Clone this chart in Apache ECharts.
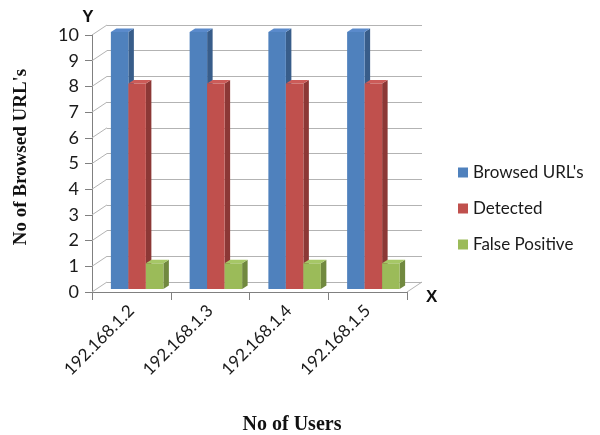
<!DOCTYPE html>
<html><head><meta charset="utf-8">
<script src="https://cdn.jsdelivr.net/npm/echarts@6/dist/echarts.min.js"></script>
<style>html,body{margin:0;padding:0;background:#fff}#c{width:600px;height:435px}</style>
</head><body><div id="c"></div>
<script>
var categories = ['192.168.1.2', '192.168.1.3', '192.168.1.4', '192.168.1.5'];
var seriesNames = ["Browsed URL's", 'Detected', 'False Positive'];
var browsed = [10, 10, 10, 10];
var detected = [8, 8, 8, 8];
var falsePositive = [1, 1, 1, 1];
var yTicks = [0, 1, 2, 3, 4, 5, 6, 7, 8, 9, 10];

var FRONT = ['#4F81BD', '#C0504D', '#9BBB59'];
var SIDE = ['#385D8A', '#8C3836', '#71893F'];
var TOP = ['#5A8ACB', '#CC5B58', '#A6C766'];
var DEPTH_X = 15, DEPTH_Y = -10;
var BAR_W = 17.5, BAR_SIDE_X = 5.5, BAR_SIDE_Y = -3.5, BAR_DY = -3;
var FONT = 'Lato, "Open Sans", sans-serif';

function barRenderer(idx) {
  return function (params, api) {
    var cat = api.value(0), v = api.value(1);
    var top = api.coord([cat, v]);
    var base = api.coord([cat, 0]);
    var x0 = top[0] - 20.5 + idx * BAR_W;
    var x1 = x0 + BAR_W;
    var yt = top[1] + BAR_DY, yb = base[1] + BAR_DY;
    var sx = BAR_SIDE_X, sy = BAR_SIDE_Y;
    return {
      type: 'group',
      children: [
        {type: 'polygon', shape: {points: [[x1, yt], [x1 + sx, yt + sy], [x1 + sx, yb + sy], [x1, yb]]},
         style: {fill: SIDE[idx]}},
        {type: 'polygon', shape: {points: [[x0, yt], [x0 + sx, yt + sy], [x1 + sx, yt + sy], [x1, yt]]},
         style: {fill: TOP[idx]}},
        {type: 'rect', shape: {x: x0, y: yt, width: BAR_W, height: yb - yt},
         style: {fill: FRONT[idx]}}
      ]
    };
  };
}

function mk(arr) { return arr.map(function (v, i) { return [i, v]; }); }

var chart = echarts.init(document.getElementById('c'));
chart.setOption({
  animation: false,
  backgroundColor: '#fff',
  textStyle: {fontFamily: FONT},
  grid: [
    {left: 92, right: 193, top: 35, bottom: 143},
    {left: 107, right: 178, top: 25, bottom: 153}
  ],
  legend: {
    orient: 'vertical', left: 453, top: 158, itemWidth: 10, itemHeight: 10, itemGap: 17,
    icon: 'rect',
    textStyle: {fontSize: 17, color: '#1a1a1a', fontFamily: FONT, lineHeight: 19},
    data: seriesNames
  },
  xAxis: [
    {type: 'category', gridIndex: 0, data: categories,
     axisLine: {lineStyle: {color: '#808080'}},
     axisTick: {show: true, length: 8, lineStyle: {color: '#808080'}, alignWithLabel: false},
     axisLabel: {rotate: 45, fontSize: 17, color: '#1a1a1a', margin: 16, fontFamily: FONT}},
    {type: 'category', gridIndex: 1, data: categories, show: false}
  ],
  yAxis: [
    {type: 'value', gridIndex: 0, min: 0, max: 10, interval: 1,
     axisLine: {show: true, lineStyle: {color: '#808080'}},
     axisTick: {show: true, length: 7, lineStyle: {color: '#808080'}},
     axisLabel: {fontSize: 18, color: '#1a1a1a', margin: 13, fontFamily: FONT},
     splitLine: {show: false},
     name: 'Y', nameLocation: 'end', nameGap: 6,
     nameTextStyle: {fontSize: 17, fontWeight: 'bold', color: '#111', fontFamily: 'Liberation Sans', padding: [0, 0, 0, -8]}},
    {type: 'value', gridIndex: 1, min: 0, max: 10, interval: 1,
     axisLine: {show: false}, axisTick: {show: false}, axisLabel: {show: false},
     splitLine: {show: true, lineStyle: {color: '#b3b3b3', width: 1}}}
  ],
  graphic: [
    {type: 'text', left: 426, top: 289, style: {text: 'X', fontSize: 17, fontWeight: 'bold', fill: '#111', fontFamily: 'Liberation Sans'}},
    {type: 'text', x: 292, y: 425, style: {text: 'No of Users', fontSize: 20, fontWeight: 'bold', fill: '#111', fontFamily: '"Liberation Serif", serif', align: 'center', verticalAlign: 'middle'}},
    {type: 'text', x: 21, y: 157, rotation: Math.PI / 2, style: {text: "No of Browsed URL's", fontSize: 19, fontWeight: 'bold', fill: '#111', fontFamily: '"Liberation Serif", serif', align: 'center', verticalAlign: 'middle'}, originX: 0, originY: 0}
  ],
  series: [
    {type: 'custom', name: 'walls', xAxisIndex: 0, yAxisIndex: 0, silent: true, z: 1,
     data: yTicks.map(function (v) { return [0, v]; }),
     renderItem: function (params, api) {
       var v = api.value(1);
       var p = api.coord([0, v]);
       var band = api.size([1, 0])[0];
       var lx = p[0] - band / 2;
       var children = [{type: 'line', shape: {x1: lx, y1: p[1], x2: lx + DEPTH_X, y2: p[1] + DEPTH_Y},
                        style: {stroke: '#b3b3b3', lineWidth: 1}}];
       if (v === 0) {
         var r = api.coord([categories.length - 1, 0]);
         var rx = r[0] + band / 2;
         children.push({type: 'line', shape: {x1: rx, y1: r[1], x2: rx + DEPTH_X, y2: r[1] + DEPTH_Y},
                        style: {stroke: '#b3b3b3', lineWidth: 1}});
       }
       return {type: 'group', children: children};
     }},
    {type: 'custom', name: seriesNames[0], xAxisIndex: 0, yAxisIndex: 0, z: 3, itemStyle: {color: FRONT[0]},
     data: mk(browsed), renderItem: barRenderer(0)},
    {type: 'custom', name: seriesNames[1], xAxisIndex: 0, yAxisIndex: 0, z: 4, itemStyle: {color: FRONT[1]},
     data: mk(detected), renderItem: barRenderer(1)},
    {type: 'custom', name: seriesNames[2], xAxisIndex: 0, yAxisIndex: 0, z: 5, itemStyle: {color: FRONT[2]},
     data: mk(falsePositive), renderItem: barRenderer(2)}
  ]
});
</script>
</body></html>
